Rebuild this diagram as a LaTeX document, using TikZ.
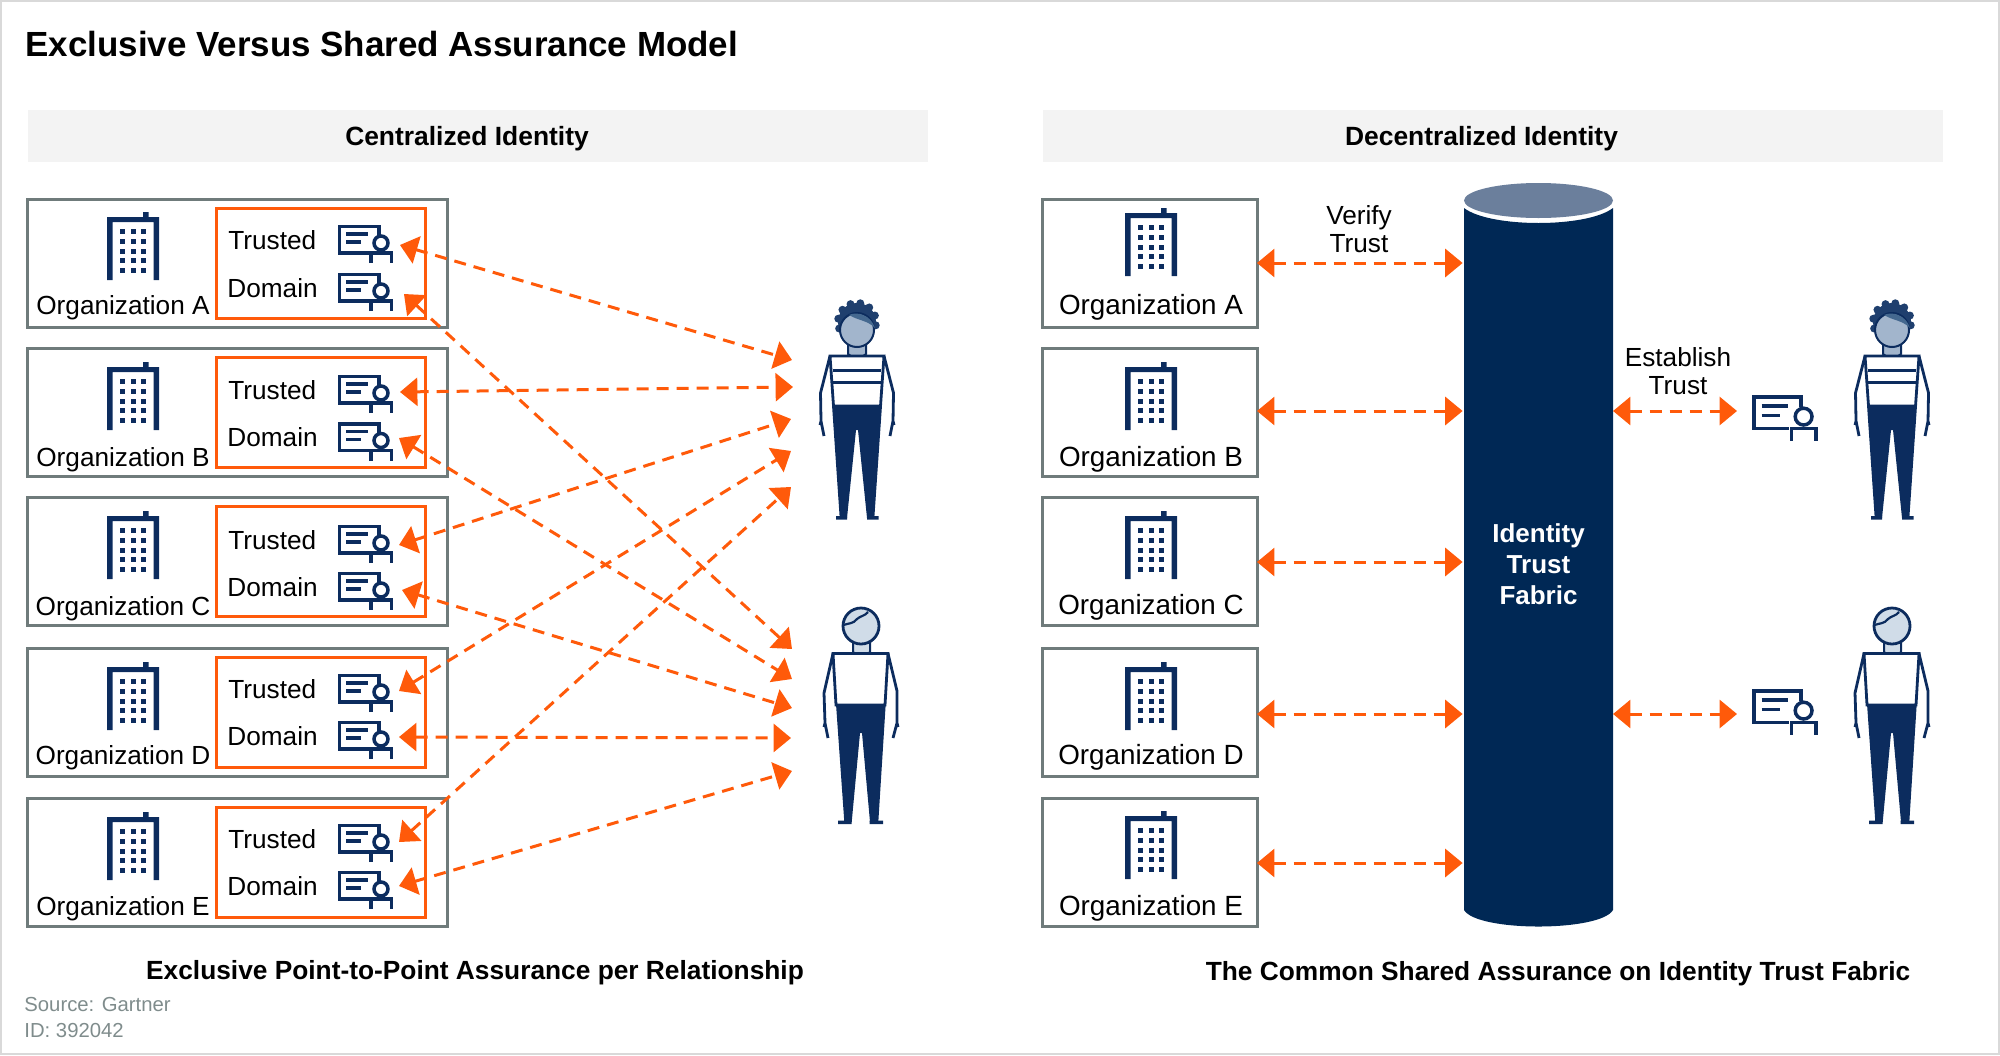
\documentclass[tikz,border=0pt]{standalone}
\usepackage{fontspec}
\setmainfont{Liberation Sans}
\usetikzlibrary{arrows.meta}
\definecolor{navy}{HTML}{0C2C5E}
\definecolor{fabricblue}{HTML}{002855}
\definecolor{capblue}{HTML}{6B7F9C}
\definecolor{hotorange}{HTML}{FF5A0A}
\definecolor{boxgray}{HTML}{6F7B7B}
\definecolor{bargray}{HTML}{F3F3F3}
\definecolor{srcgray}{HTML}{7F8C8C}
\definecolor{facedark}{HTML}{A2B5CC}
\definecolor{facelight}{HTML}{D0DCE8}
\definecolor{hairblue}{HTML}{1F3F6E}
\definecolor{fringeblue}{HTML}{44688F}
\tikzset{
orgbox/.style={
  draw=boxgray,
  line width=1.5pt,
  minimum width=210pt,
  minimum height=64pt,
  inner sep=0pt,
  outer sep=0pt
  },
rorgbox/.style={orgbox, minimum width=107.5pt},
domainbox/.style={
  draw=hotorange,
  line width=1.5pt,
  minimum width=104.5pt,
  minimum height=55pt,
  inner sep=0pt,
  outer sep=0pt
  },
headbar/.style={
  fill=bargray,
  minimum width=450pt,
  minimum height=26pt,
  inner sep=0pt
  },
headtext/.style={inner sep=0pt, font=\fontsize{13.2}{15}\selectfont\bfseries},
plain/.style={inner sep=0pt, font=\fontsize{13.1}{14}\selectfont, align=center},
caption/.style={inner sep=0pt, font=\fontsize{13.15}{15}\selectfont\bfseries},
link/.style={
  draw=hotorange,
  line width=1.5pt,
  dash pattern=on 6pt off 4pt,
  {Triangle[length=8.7pt,width=14pt]}-{Triangle[length=8.7pt,width=14pt]}
  }
}
\tikzset{
pics/building/.style={code={
  \fill[navy] (0,5) rectangle (52,10) (0,5) rectangle (5.5,68) (46.5,5) rectangle (52,68) (36,0) rectangle (41.5,6);
  \foreach \wx in {13.2,23.6,34.2}
    \foreach \wy in {17,26.8,36.6,46.4,56}
      \fill[navy] (\wx,\wy) rectangle ++(5,5);
  }},
pics/cert/.style={code={
  \draw[navy,line width=1.75pt] (41,10) -- (41,1.7) -- (1.7,1.7) -- (1.7,28) -- (31,28);
  \draw[navy,line width=1.75pt] (8,9) -- (30,9) (8,17) -- (23,17);
  \draw[navy,line width=1.75pt] (43,18) circle [radius=7];
  \draw[navy,line width=1.75pt] (33,38) -- (33,28) -- (53.5,28) -- (53.5,38);
  }},
pics/manfig/.style={code={
  \fill[hairblue] (0,-6) circle [radius=19];
  \foreach \a in {-200,-170,...,20}
    \fill[hairblue] (0,-6) ++(\a:19) circle [radius=4];
  \draw[navy,line width=1pt,fill=facedark] (-9,14) -- (-9,26) .. controls (-5,31) and (5,31) .. (9,26) -- (9,14);
  \draw[navy,line width=1pt,fill=facedark] (0,2) circle [radius=17];
  \fill[fringeblue] (-8,-13) .. controls (0,-17) and (14,-13) .. (18,0) .. controls (10,-8) and (2,-7) .. (-8,-13);
  \draw[navy,line width=1.4pt,fill=white] (-27,28) -- (27,28) -- (23.5,78) -- (-23.5,78) -- cycle;
  \draw[navy,line width=1.4pt] (-24,42.3) -- (24,42.3) (-24,54.3) -- (24,54.3);
  \draw[navy,line width=1.4pt] (-27,28) -- (-36.5,65) -- (-36,93) -- (-33,108) (-36,93) -- (-37,97);
  \draw[navy,line width=1.4pt] (27,28) -- (36.5,65) -- (36,93) -- (33,108) (36,93) -- (37,97);
  \fill[navy] (-25,77) -- (25,77) -- (17.3,190) -- (10,190) -- (1,102) -- (-1,102) -- (-10,190) -- (-17.3,190) -- cycle;
  \fill[navy] (-21,188) rectangle (-10,191.5) (10,188) rectangle (21.5,191.5);
  }},
pics/ladyfig/.style={code={
  \draw[navy,line width=1pt,fill=facelight] (-8,15) -- (-8,26) .. controls (-5,31) and (5,31) .. (9,26) -- (9,15);
  \draw[navy,line width=1.4pt,fill=facelight] (0,0) circle [radius=18];
  \draw[navy,line width=1.1pt] (-17.5,-1) .. controls (-12,-3) and (-8,-2) .. (-4,-7) .. controls (-1,-10) and (4,-10) .. (7,-14);
  \draw[navy,line width=1.4pt,fill=white] (-28,27.5) -- (27,27.5) -- (24,79) -- (-25,79) -- cycle;
  \draw[navy,line width=1.4pt] (-28,27.5) -- (-37,67) -- (-36,97) -- (-33,112) (-36,97) -- (-37,101);
  \draw[navy,line width=1.4pt] (27,27.5) -- (36,65) -- (36,97) -- (32,112) (36,97) -- (37,101);
  \fill[navy] (-25,78) -- (24.7,78) -- (17.3,196) -- (9,196) -- (1,107) -- (-1,107) -- (-9.3,196) -- (-16.7,196) -- cycle;
  \fill[navy] (-23,194.5) rectangle (-9.3,198) (8.5,194.5) rectangle (22,198);
  }}
}
\begin{document}
\begin{tikzpicture}[x=0.5pt,y=-0.5pt]
\useasboundingbox (0,0) rectangle (2000,1055);
\draw[color=black!15,line width=1pt] (1,1) rectangle (1999,1054);

\node[inner sep=0pt,anchor=west,font=\fontsize{17.47}{20}\selectfont\bfseries] (title) at (25,44) {Exclusive Versus Shared Assurance Model};
\node[headbar] (lefthead) at (477.5,136) {};
\node[headbar] (righthead) at (1492.5,136) {};
\node[headtext] (lefttext) at (467,139) {Centralized Identity};
\node[headtext] (righttext) at (1481.5,139) {Decentralized Identity};

% left side
\foreach \org/\ym/\yt/\yd/\ybuild/\yname in {A/263/240/288/212/308,B/412.5/390/437.5/362/460,C/561.5/540/587/511/609,D/712.5/689/736/662/758,E/862.5/839/886/812/909}{
  \node[orgbox] (org\org) at (237.5,\ym) {};
  \node[domainbox] (dom\org) at (320.5,\ym) {};
  \pic at (107,\ybuild) {building};
  \node[plain] (name\org) at (123,\yname) {Organization \org};
  \node[plain,anchor=west] (trusted\org) at (228,\yt) {Trusted};
  \node[plain,anchor=west] (domain\org) at (227,\yd) {Domain};
  \pic at (338,\yt-15) {cert};
  \pic at (338,\yd-15) {cert};
}

\coordinate (tA1) at (400,245);
\coordinate (tA2) at (404,294);
\coordinate (tB1) at (400,392);
\coordinate (tB2) at (399,438);
\coordinate (tC1) at (399,545);
\coordinate (tC2) at (402,590);
\coordinate (tD1) at (399,691);
\coordinate (tD2) at (399,737);
\coordinate (tE1) at (399,842);
\coordinate (tE2) at (399,886);

\coordinate (manA) at (792,360);
\coordinate (manB) at (793,387);
\coordinate (manC) at (791,419);
\coordinate (manD) at (791,451);
\coordinate (manE) at (791,487);
\coordinate (ladyA) at (792,649);
\coordinate (ladyB) at (792,679);
\coordinate (ladyC) at (792,708);
\coordinate (ladyD) at (791,738);
\coordinate (ladyE) at (792,771);

\foreach \org in {A,B,C,D,E}{
  \draw[link] (t\org1) -- (man\org);
  \draw[link] (t\org2) -- (lady\org);
}

\pic at (857,328) {manfig};
\pic at (861,626) {ladyfig};
\node[caption] (leftcap) at (475,973) {Exclusive Point-to-Point Assurance per Relationship};

\node[inner sep=0pt,anchor=north west,align=left,text=srcgray,font=\fontsize{10.15}{13}\selectfont] (source) at (24,997) {Source: Gartner\\ID: 392042};

% right side
\fill[fabricblue] (1464,208) .. controls (1490,228) and (1587,228) .. (1613,208) -- (1613,910) .. controls (1600,932) and (1477,932) .. (1464,910) -- cycle;
\fill[capblue] (1538.5,200.5) ellipse [x radius=74.5, y radius=17.5];
\node[plain,minimum width=75.5pt,minimum height=350pt,text=white,font=\fontsize{13}{15.5}\selectfont\bfseries] (fabric) at (1538.5,564) {Identity\\Trust\\Fabric};

\foreach \org/\ym/\ybuild/\yname/\yarr in {A/263/208/307/263,B/412.5/362/459.5/411,C/561.5/511/607.5/562,D/712.5/662/757/714,E/862.5/811/908.5/863}{
  \node[rorgbox] (rorg\org) at (1149.5,\ym) {};
  \pic at (1125,\ybuild) {building};
  \node[plain,font=\fontsize{13.9}{15}\selectfont] (rname\org) at (1151,\yname) {Organization \org};
  \coordinate (rt\org) at (1257,\yarr);
  \draw[link] (rt\org) -- (rt\org -| fabric.west);
}
\node[plain] (verify) at (1359,229) {Verify\\Trust};
\node[plain] (establish) at (1678,371) {Establish\\Trust};

\coordinate (estA) at (1613,411);
\coordinate (estB) at (1613,714);
\coordinate (estendA) at (1737,411);
\coordinate (estendB) at (1737,714);
\draw[link] (estA) -- (estendA);
\draw[link] (estB) -- (estendB);

\pic[scale=1.2] at (1752,395) {cert};
\pic[scale=1.2] at (1752,689) {cert};
\pic at (1892,328) {manfig};
\pic at (1892,626) {ladyfig};
\node[caption] (rightcap) at (1558,974) {The Common Shared Assurance on Identity Trust Fabric};
\end{tikzpicture}
\end{document}
